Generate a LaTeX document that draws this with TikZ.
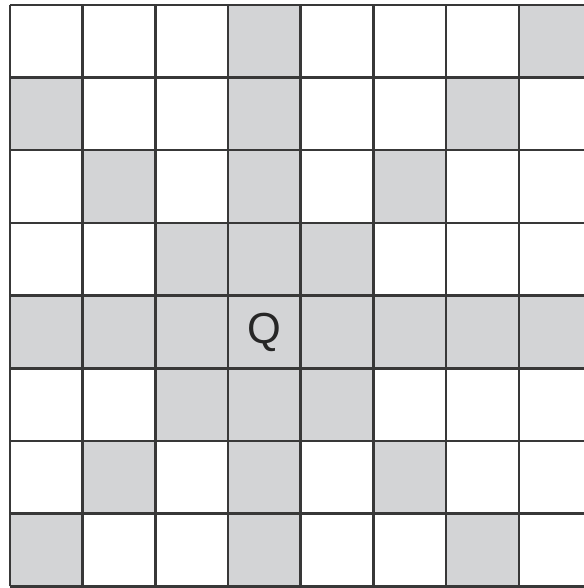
\documentclass[tikz,border=0pt]{standalone}
\usepackage{fontspec}
\setmainfont{Liberation Sans}
\usetikzlibrary{positioning}
\definecolor{qgray}{HTML}{D3D4D6}
\definecolor{qline}{HTML}{383838}

\begin{document}
\begin{tikzpicture}
  % ---------- frame ----------
  \useasboundingbox (-0.137,-0.022) rectangle ++(8.033,8.088);
  \clip (-0.137,-0.022) rectangle ++(8.033,8.088);
  \fill[white] (-0.137,-0.022) rectangle ++(8.033,8.088);
  % ---------- attacked squares ----------
  \foreach \cx/\cy in {3/7,7/7, 0/6,3/6,6/6, 1/5,3/5,5/5, 2/4,3/4,4/4,
                       0/3,1/3,2/3,3/3,4/3,5/3,6/3,7/3,
                       2/2,3/2,4/2, 1/1,3/1,5/1, 0/0,3/0,6/0}{
     \fill[qgray] (\cx,\cy) rectangle ++(1,1);}
  % ---------- board ----------
  \draw[qline,line width=1pt] (0,0) grid (8,8);
  \node[text=black!85,font=\fontsize{17}{17}\selectfont] (queen) at (3.5,3.5){Q};
\end{tikzpicture}
\end{document}
